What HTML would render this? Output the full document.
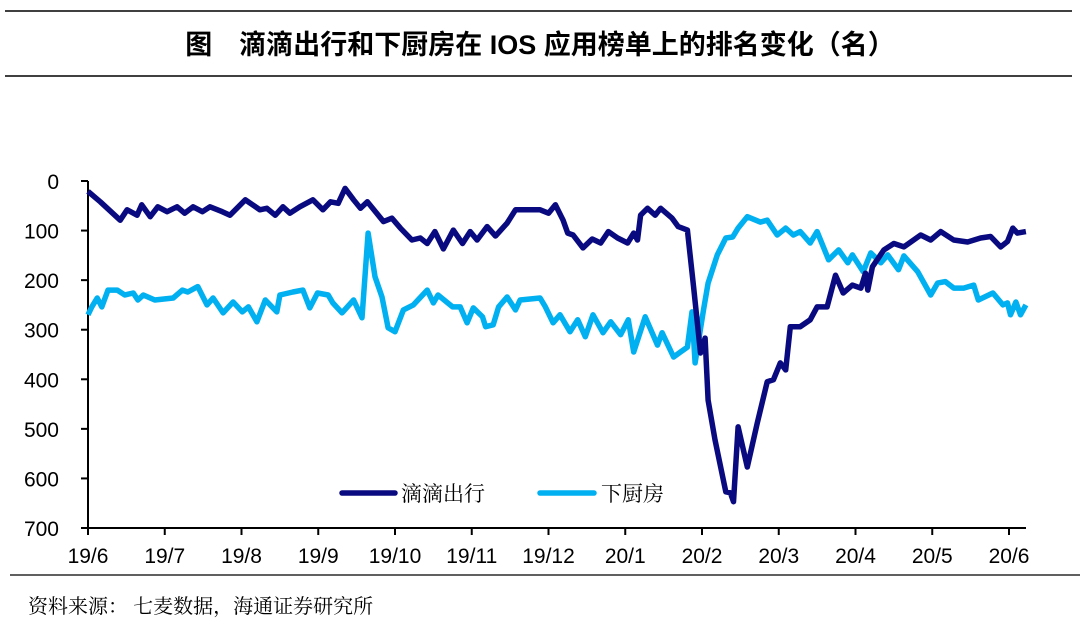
<!DOCTYPE html>
<html><head><meta charset="utf-8"><style>
html,body{margin:0;padding:0;background:#fff;width:1080px;height:621px;overflow:hidden}
svg text{font-family:"Liberation Sans","Noto Sans CJK SC",sans-serif}
</style></head><body>
<svg id="chart" width="1080" height="621" viewBox="0 0 1080 621" xmlns="http://www.w3.org/2000/svg">
<line x1="5" y1="11" x2="1072" y2="11" stroke="#000" stroke-width="1.5"/>
<line x1="5" y1="76" x2="1072" y2="76" stroke="#000" stroke-width="1.5"/>
<text x="540" y="54" text-anchor="middle" font-size="27" font-weight="bold" style="font-family:'Liberation Sans','Noto Sans CJK SC',sans-serif">图　滴滴出行和下厨房在 IOS 应用榜单上的排名变化（名）</text>
<g id="axes"></g>
<g id="series"></g>
<g>
<line x1="342" y1="493" x2="395" y2="493" stroke="#0a0a80" stroke-width="5.5" stroke-linecap="round"/>
<text x="401" y="501" font-size="21" style="font-family:'Noto Serif CJK SC',serif">滴滴出行</text>
<line x1="540" y1="493" x2="594" y2="493" stroke="#00b0f0" stroke-width="5.5" stroke-linecap="round"/>
<text x="601" y="501" font-size="21" style="font-family:'Noto Serif CJK SC',serif">下厨房</text>
</g>
<line x1="10" y1="575" x2="1080" y2="575" stroke="#000" stroke-width="1.2"/>
<text x="28" y="613" font-size="20" style="font-family:'Noto Serif CJK SC',serif">资料来源：  七麦数据，海通证券研究所</text>
</svg>
<script>
const yTicks=[0,100,200,300,400,500,600,700];
const xTickLabels=["19/6","19/7","19/8","19/9","19/10","19/11","19/12","20/1","20/2","20/3","20/4","20/5","20/6"];
const didiMonths=[0,.16,.42,.51,.64,.70,.81,.91,1.03,1.16,1.26,1.37,1.49,1.59,1.75,1.85,2.05,2.24,2.33,2.44,2.54,2.63,2.76,2.93,3.06,3.16,3.26,3.35,3.46,3.55,3.64,3.85,3.96,4.07,4.22,4.33,4.42,4.52,4.63,4.76,4.88,4.98,5.07,5.20,5.31,5.46,5.57,5.89,6.00,6.09,6.19,6.25,6.32,6.45,6.57,6.68,6.78,6.90,7.03,7.11,7.16,7.20,7.29,7.39,7.46,7.61,7.69,7.81,7.89,7.98,8.04,8.08,8.17,8.31,8.37,8.41,8.47,8.59,8.72,8.85,8.93,9.02,9.09,9.15,9.28,9.41,9.50,9.63,9.74,9.84,9.96,10.07,10.13,10.16,10.22,10.37,10.50,10.63,10.85,10.98,11.11,11.28,11.46,11.63,11.76,11.89,11.98,12.05,12.11,12.22];
const didiRank=[21,42,79,58,69,48,72,52,62,52,65,52,62,52,62,69,38,58,55,69,52,65,52,38,58,42,45,15,38,55,42,82,75,95,119,115,126,102,137,99,126,102,119,92,111,85,58,58,65,48,79,105,109,135,117,125,102,115,125,105,119,69,55,69,55,75,92,99,214,347,317,442,522,627,629,647,496,577,488,405,401,367,381,294,294,280,254,254,190,226,210,216,186,220,173,139,126,133,109,119,102,119,123,115,112,133,122,95,105,102];
const xcfMonths=[0,.05,.12,.18,.26,.38,.48,.59,.65,.72,.87,1.11,1.23,1.30,1.43,1.55,1.63,1.76,1.89,2.01,2.09,2.20,2.31,2.46,2.50,2.67,2.80,2.89,2.99,3.13,3.19,3.31,3.46,3.57,3.65,3.74,3.83,3.91,4.00,4.11,4.24,4.42,4.50,4.56,4.75,4.85,4.94,5.02,5.14,5.18,5.28,5.35,5.46,5.57,5.63,5.89,5.96,6.06,6.15,6.28,6.38,6.48,6.58,6.71,6.81,6.94,7.04,7.11,7.26,7.42,7.48,7.63,7.72,7.81,7.87,7.91,8.02,8.08,8.20,8.31,8.40,8.47,8.59,8.76,8.85,8.98,9.09,9.19,9.28,9.41,9.50,9.65,9.78,9.90,9.96,10.10,10.20,10.33,10.42,10.56,10.63,10.81,10.98,11.07,11.17,11.28,11.41,11.54,11.60,11.79,11.92,11.98,12.02,12.09,12.15,12.22];
const xcfRank=[270,254,236,254,220,220,230,226,240,230,240,236,220,224,213,250,236,266,244,264,254,284,240,264,230,224,220,256,226,230,246,266,240,276,105,193,234,296,304,260,250,220,246,230,254,254,286,256,274,294,290,254,234,260,240,236,254,286,270,304,280,314,270,306,284,310,280,345,274,331,306,355,345,335,264,367,260,206,149,115,113,95,72,83,79,109,95,109,102,125,102,159,139,165,149,183,145,165,149,179,151,183,230,206,203,216,216,210,240,226,250,246,270,244,270,250];

const NS="http://www.w3.org/2000/svg";
const X0=88,X1=1009,Y0=181,Y1=528;
function xs(m){return X0+(X1-X0)*m/12;}
function ys(v){return Y0+(Y1-Y0)*v/700;}
function mk(tag,attrs,parent){const e=document.createElementNS(NS,tag);for(const k in attrs)e.setAttribute(k,attrs[k]);parent.appendChild(e);return e;}
const axes=document.getElementById('axes');
const ya=mk('line',{x1:X0,y1:Y0,x2:X0,y2:Y1,stroke:'#000','stroke-width':2},axes);


const xa=mk('line',{x1:X0,y1:Y1,x2:1026,y2:Y1,stroke:'#000','stroke-width':2},axes);


yTicks.forEach(v=>{
  const t=mk('line',{x1:X0-7,y1:ys(v),x2:X0,y2:ys(v),stroke:'#000','stroke-width':2},axes);
  
  
  const l=mk('text',{x:59,y:ys(v)+8,'text-anchor':'end','font-size':21},axes);
  
  
  l.textContent=v;
});
xTickLabels.forEach((s,i)=>{
  const t=mk('line',{x1:xs(i),y1:Y1,x2:xs(i),y2:Y1+7,stroke:'#000','stroke-width':2},axes);
  
  
  const l=mk('text',{x:xs(i),y:563,'text-anchor':'middle','font-size':21},axes);
  
  
  l.textContent=s;
});
const ser=document.getElementById('series');
function path(ms,vs){return ms.map((m,i)=>(i?'L':'M')+xs(m).toFixed(1)+' '+ys(vs[i]).toFixed(1)).join(' ');}
const p2=mk('path',{d:path(xcfMonths,xcfRank),fill:'none',stroke:'#00b0f0','stroke-width':5.5,'stroke-linejoin':'round'},ser);


const p1=mk('path',{d:path(didiMonths,didiRank),fill:'none',stroke:'#0a0a80','stroke-width':5.5,'stroke-linejoin':'round'},ser);


</script>
</body></html>
